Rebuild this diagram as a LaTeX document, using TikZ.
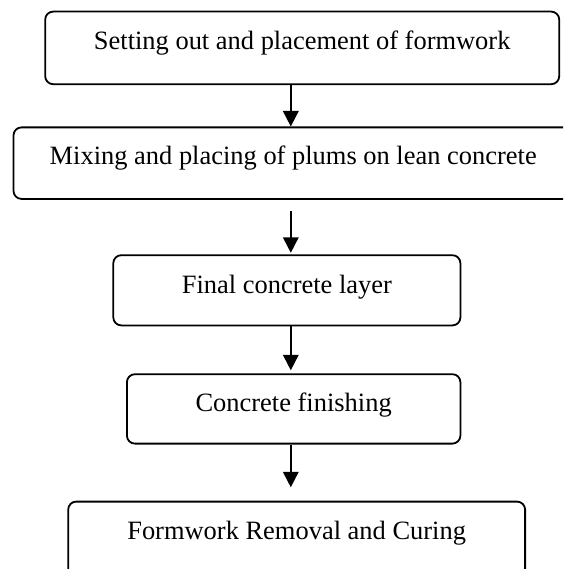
\documentclass[tikz,border=0pt]{standalone}
\usepackage{fontspec}
\setmainfont{Liberation Serif}
\usetikzlibrary{arrows.meta}
\begin{document}
\begin{tikzpicture}[x=1pt,y=-1pt,
  stepbox/.style={draw, line width=1.8pt, rounded corners=8pt, inner sep=0pt,
    anchor=north west, align=center,
    font=\fontsize{26.45}{30}\selectfont},
  arr/.style={line width=1.8pt, -{Triangle[length=15.5pt,width=15.5pt]}}]
\useasboundingbox (0,0) rectangle (563,569);
\clip (0,0) rectangle (563,569);
\node[stepbox, minimum width=514pt, text height=37.6pt, text depth=35pt]
  (b1) at (44.3,10.7) {Setting out and placement of formwork};
\node[stepbox, minimum width=559.4pt, text height=37.5pt, text depth=34pt]
  (b2) at (12.6,126.5) {Mixing and placing of plums on lean concrete};
\node[stepbox, minimum width=347.1pt, text height=38pt, text depth=32.2pt]
  (b3) at (112.4,254.3) {Final concrete layer};
\node[stepbox, minimum width=333.5pt, text height=37.4pt, text depth=32pt]
  (b4) at (126,373.3) {Concrete finishing};
\node[stepbox, minimum width=456.9pt, text height=37.6pt, text depth=45pt]
  (b5) at (67.3,500.7) {Formwork Removal and Curing};
\coordinate (ax) at (290.8,0);
\draw[arr] (b1.south -| ax) -- (b2.north -| ax);
\draw[arr] ([yshift=-11pt]b2.south -| ax) -- ([yshift=1.5pt]b3.north -| ax);
\draw[arr] (b3.south -| ax) -- ([yshift=3pt]b4.north -| ax);
\draw[arr] (b4.south -| ax) -- ([yshift=13.4pt]b5.north -| ax);
\end{tikzpicture}
\end{document}
